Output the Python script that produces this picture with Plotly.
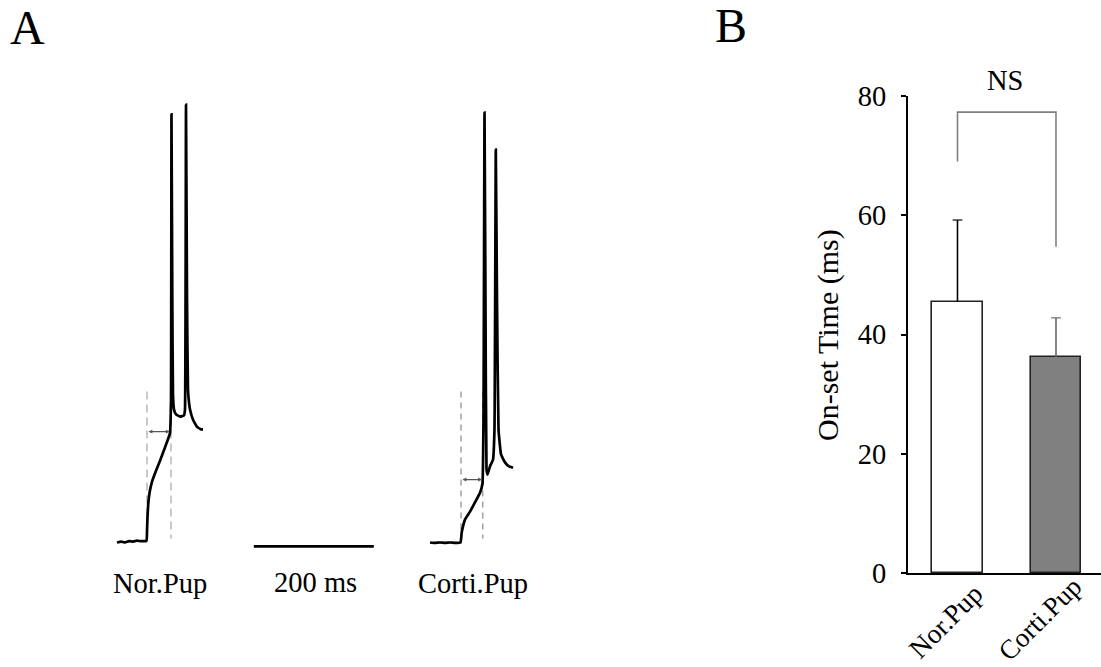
import plotly.graph_objects as go

# ---------------- data ----------------
# Panel A: membrane-potential traces (time in ms from stimulus onset, voltage in mV)
nor_t = [-50, -43.3, -36.7, -30, -23.3, -16.7, -10, -0.8, 0, 0.8, 2.0, 4.2, 8.3, 15, 21.7, 30, 38.3,
         40, 40.8, 42.2, 43.3, 45, 48.3, 55, 61.7, 63.3, 65, 66.7, 68.3, 71.7, 76.7, 83.3, 90, 93.3]
nor_v = [-70.1, -69.9, -70.1, -69.8, -69.9, -69.7, -69.8, -69.7, -67.6, -64.4, -61.5, -58.8, -56.3, -53.8, -51.5, -48.5, -45.3,
         -37.6, 27.2, -14.9, -36.5, -39.9, -41.0, -41.5, -41.2, -39.9, 29.4, -14.9, -35.3, -39.9, -42.2, -43.8, -44.4, -44.4]

cor_t = [-51.7, -43.3, -35, -26.7, -18.3, -10, -0.8, 1.2, 6.7, 15, 23.3, 31.7, 35.8, 37.5, 39.2, 40.8,
         42.5, 44.2, 48.3, 53.3, 55.8, 58, 60, 62.5, 66.7, 73.3, 80, 86.7]
cor_v = [-70.1, -70.2, -70.1, -70.2, -70.1, -70.2, -70.1, -67.8, -64.9, -63.1, -61.0, -58.8, -56.7, -42.2, 27.6, -14.9,
         -53.5, -54.7, -52.8, -51.3, -44.4, 19.2, -14.9, -44.4, -50.1, -51.9, -52.8, -53.1]

trace_labels = ["Nor.Pup", "Corti.Pup"]
onset_ms = [38, 35]            # arrow length (onset latency) of each example trace
onset_line_ms = [40, 36.2]     # second dashed marker
onset_arrow_mv = [-44.9, -55.8]
dash_top_mv = -35.8
dash_bottom_mv = -69.2
scale_bar_ms = 200
scale_bar_label = "200 ms"

# Panel B: bar chart
groups = ["Nor.Pup", "Corti.Pup"]
onset_mean = [45.5, 36.2]
onset_sem = [13.7, 6.6]
bracket_y = [69, 77.3, 77.3, 54.7]
y_ticks = [0, 20, 40, 60, 80]
sig_label = "NS"

# ---------------- layout constants ----------------
W, H = 1101, 667
FONT = "Liberation Serif, Times New Roman, serif"
px_per_ms = 0.6
px_per_mv = 4.4
A_width_px = 700
A_x_range = [0, A_width_px / px_per_ms]
A_y_range = [-98.4, -98.4 + H / px_per_mv]
offsets = [147 / px_per_ms, 461 / px_per_ms]   # placement of each trace's stimulus onset
scale_bar_start = 423
scale_bar_mv = -71
dash_styles = [dict(color="#c4c4c4", width=1.8, dash="8px,5px"),
               dict(color="#a0a0a0", width=1.5, dash="6px,5px")]


def paper_text(px, py, text, size=28.5, angle=0):
    fig.add_annotation(x=px / W, y=1 - py / H, xref="paper", yref="paper", text=text,
                       xanchor="center", yanchor="middle", textangle=angle, showarrow=False,
                       borderpad=0, font=dict(family=FONT, size=size, color="black"))


fig = go.Figure()

traces_t = [nor_t, cor_t]
traces_v = [nor_v, cor_v]
for i in range(2):
    off = offsets[i]
    for tx in [0, onset_line_ms[i]]:
        fig.add_trace(go.Scatter(x=[off + tx, off + tx], y=[dash_top_mv, dash_bottom_mv],
                                 mode="lines", line=dash_styles[i],
                                 hoverinfo="skip", showlegend=False, xaxis="x", yaxis="y"))
    fig.add_trace(go.Scatter(x=[off + t for t in traces_t[i]], y=traces_v[i], mode="lines",
                             line=dict(color="black", width=2.7, shape="spline", smoothing=0.3),
                             showlegend=False, xaxis="x", yaxis="y"))
    fig.add_annotation(x=off + onset_ms[i], y=onset_arrow_mv[i], ax=off, ay=onset_arrow_mv[i],
                       xref="x", yref="y", axref="x", ayref="y", text="", showarrow=True,
                       arrowhead=2, arrowside="end+start", arrowsize=0.6, arrowwidth=1.3,
                       arrowcolor="#555555")

# scale bar
fig.add_trace(go.Scatter(x=[scale_bar_start, scale_bar_start + scale_bar_ms], y=[scale_bar_mv, scale_bar_mv],
                         mode="lines", line=dict(color="black", width=2.7), showlegend=False,
                         xaxis="x", yaxis="y"))

paper_text(160, 583, trace_labels[0])
paper_text(315, 582, scale_bar_label)
paper_text(473, 583, trace_labels[1])
paper_text(27, 27, "A", size=48)
paper_text(731, 25, "B", size=48)

# ---------------- panel B ----------------
bar_fill = ["white", "#808080"]
err_col = ["black", "#666666"]
for i in range(2):
    fig.add_trace(go.Bar(x=[i], y=[onset_mean[i]], width=0.508,
                         marker=dict(color=bar_fill[i], line=dict(color="#222222", width=1.6)),
                         showlegend=False, xaxis="x2", yaxis="y2"))
    fig.add_trace(go.Scatter(x=[i, i], y=[onset_mean[i], onset_mean[i] + onset_sem[i]],
                             mode="lines+markers", line=dict(color=err_col[i], width=1.6),
                             marker=dict(symbol="line-ew", size=[0, 7],
                                         line=dict(color=err_col[i], width=1.6)),
                             showlegend=False, xaxis="x2", yaxis="y2", cliponaxis=False))

fig.add_trace(go.Scatter(x=[0, 0, 1, 1], y=bracket_y, mode="lines",
                         line=dict(color="#808080", width=1.6), showlegend=False,
                         xaxis="x2", yaxis="y2", cliponaxis=False))
paper_text(1005, 80, sig_label)

paper_text(945, 621, groups[0], size=27.5, angle=-45)
paper_text(1040, 619, groups[1], size=27, angle=-45)
paper_text(828, 335, "On-set Time (ms)", size=30, angle=-90)

fig.update_layout(
    template="none",
    width=W, height=H, margin=dict(l=0, r=0, t=0, b=0, autoexpand=False),
    paper_bgcolor="white", plot_bgcolor="rgba(0,0,0,0)",
    font=dict(family=FONT, size=28, color="black"),
    bargap=0, showlegend=False,
    xaxis=dict(domain=[0, A_width_px / W], range=A_x_range, visible=False, automargin=False),
    yaxis=dict(domain=[0, 1], range=A_y_range, visible=False, automargin=False),
    xaxis2=dict(domain=[908 / W, 1.0], range=[-0.5025, 1.457], anchor="y2", automargin=False,
                showline=True, linecolor="black", linewidth=2.4, showticklabels=False,
                ticks="", showgrid=False, zeroline=False),
    yaxis2=dict(domain=[(H - 573) / H, (H - 96) / H], range=[0, 80], anchor="x2", automargin=False,
                tickvals=y_ticks, showline=True, linecolor="black", linewidth=2,
                ticks="outside", ticklen=5, tickwidth=1.6, tickcolor="black",
                ticklabelstandoff=9, showgrid=False, zeroline=False,
                tickfont=dict(family=FONT, size=28.5, color="black")),
)

fig.write_html("out.html")
